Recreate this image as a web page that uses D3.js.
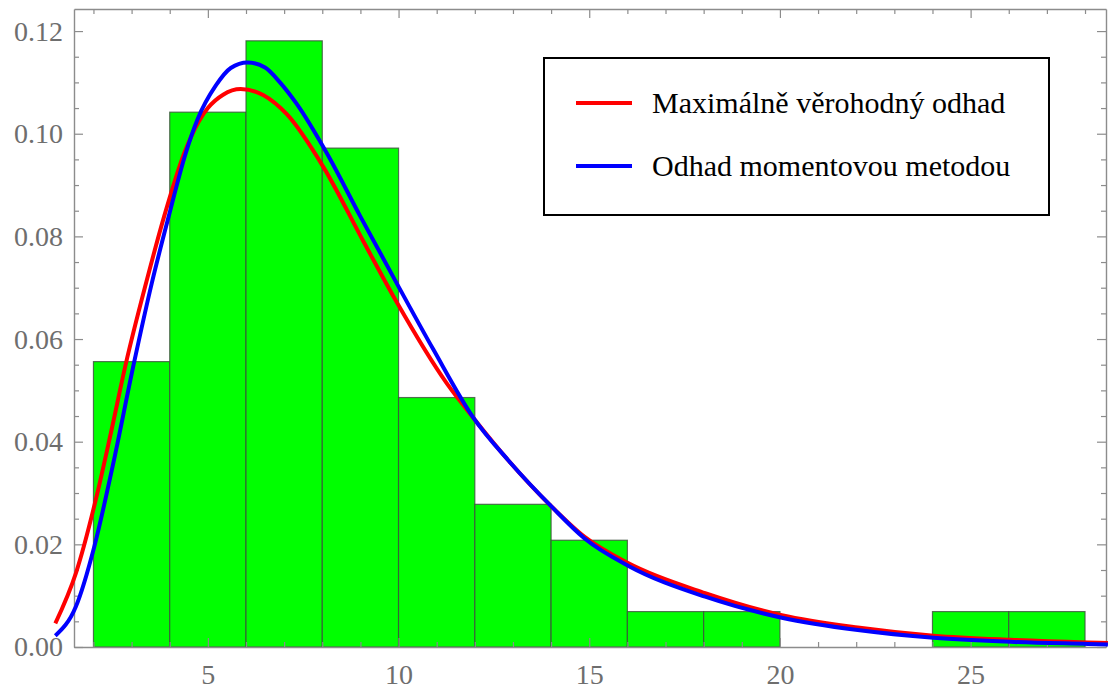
<!DOCTYPE html>
<html>
<head>
<meta charset="utf-8">
<script src="https://cdn.jsdelivr.net/npm/d3@7"></script>
<style>
  html, body { margin: 0; padding: 0; background: #fff; }
  svg { display: block; }
</style>
</head>
<body>
<svg id="chart" width="1108" height="690"></svg>
<script>
// Histogram bins (lower edge, width 2) and their densities
const binStart   = [2, 4, 6, 8, 10, 12, 14, 16, 18, 20, 22, 24, 26];
const binWidth   = 2;
const binDensity = [0.0556, 0.1042, 0.1181, 0.0972, 0.0486, 0.0278, 0.0208,
                    0.0069, 0.0069, 0, 0, 0.0069, 0.0069];

// Fitted density, maximum-likelihood estimate
const mleX = [1.00, 1.54, 2.10, 2.46, 2.85, 3.39, 3.85, 4.38, 4.77, 5.00, 5.40, 5.86,
              6.46, 7.07, 8.03, 9.08, 9.95, 11.26, 12.02, 12.91, 14.02, 14.87, 16.03,
              18.04, 20.05, 22.04, 24.03, 26.05, 28.07, 28.60];
const mleY = [0.0046, 0.0144, 0.0299, 0.0418, 0.0552, 0.0712, 0.0838, 0.0962, 0.1025, 0.1050, 0.1076, 0.1087,
              0.1075, 0.1038, 0.0935, 0.0790, 0.0672, 0.0514, 0.0441, 0.0361, 0.0273, 0.0215, 0.0163,
              0.0105, 0.0062, 0.0038, 0.0022, 0.0014, 0.0009, 0.0008];

// Fitted density, method of moments
const momX = [1.00, 1.54, 2.02, 2.50, 3.07, 3.53, 3.97, 4.42, 4.73, 5.21, 5.60, 6.04,
              6.50, 6.89, 7.33, 8.12, 8.99, 9.95, 10.91, 11.96, 12.91, 14.02, 14.87, 16.03,
              18.04, 20.05, 22.04, 24.03, 26.05, 28.07, 28.60];
const momY = [0.0022, 0.0079, 0.0195, 0.0351, 0.0556, 0.0709, 0.0838, 0.0962, 0.1028, 0.1094, 0.1128, 0.1139,
              0.1129, 0.1100, 0.1058, 0.0962, 0.0840, 0.0709, 0.0580, 0.0447, 0.0361, 0.0273, 0.0212, 0.0158,
              0.0098, 0.0057, 0.0033, 0.0018, 0.0010, 0.0006, 0.0005];

// Tick values and labels
const xMajorTicks = [5, 10, 15, 20, 25];
const xMinorTicks = d3.range(2, 29).filter(v => v % 5 !== 0);
const yMajorTicks = [0, 0.02, 0.04, 0.06, 0.08, 0.10, 0.12];
const yTickLabels = ["0.00", "0.02", "0.04", "0.06", "0.08", "0.10", "0.12"];
const yMinorTicks = [0.005, 0.01, 0.015, 0.025, 0.03, 0.035, 0.045, 0.05, 0.055,
                     0.065, 0.07, 0.075, 0.085, 0.09, 0.095, 0.105, 0.11, 0.115];

// Legend entries
const legendLabels = ["Maximálně věrohodný odhad", "Odhad momentovou metodou"];
const seriesColors = ["#ff0000", "#0000ff"];

const svg = d3.select("#chart");
const serif = "'Liberation Serif', 'Times New Roman', Times, serif";
const axisGray = "#8c8c8c";
const labelGray = "#6e6e6e";

const x = d3.scaleLinear().domain([1.49, 28.55]).range([74, 1106]);
const y = d3.scaleLinear().domain([0, 0.1243]).range([647, 9]);

// Bars
svg.append("g")
  .selectAll("rect")
  .data(binStart.map((s, i) => ({ s, d: binDensity[i] })).filter(b => b.d > 0))
  .join("rect")
    .attr("x", b => x(b.s))
    .attr("width", b => x(b.s + binWidth) - x(b.s))
    .attr("y", b => y(b.d))
    .attr("height", b => y(0) - y(b.d))
    .attr("fill", "#00ff00")
    .attr("stroke", "#3d4d3d")
    .attr("stroke-opacity", 0.8)
    .attr("stroke-width", 1.2);

// Frame with inward ticks on all four sides
function styleAxis(g, showLabels) {
  g.attr("font-family", serif).attr("font-size", 28);
  g.select(".domain").attr("stroke", axisGray).attr("stroke-width", 1.4);
  g.selectAll(".tick line").attr("stroke", axisGray).attr("stroke-width", 1.2);
  g.selectAll(".tick text").attr("fill", labelGray);
  if (!showLabels) g.selectAll(".tick text").remove();
}

const frameBottom = svg.append("g").attr("transform", `translate(0,${y(0)})`);
frameBottom.call(d3.axisBottom(x).tickValues(xMajorTicks).tickSize(-9).tickSizeOuter(0)
  .tickPadding(17).tickFormat(d3.format("d")))
  .call(g => styleAxis(g, true));
frameBottom.append("g").call(d3.axisBottom(x).tickValues(xMinorTicks).tickSize(-5).tickFormat(""))
  .call(g => { g.select(".domain").remove(); styleAxis(g, false); });

const frameTop = svg.append("g").attr("transform", `translate(0,${y.range()[1]})`);
frameTop.call(d3.axisTop(x).tickValues(xMajorTicks).tickSize(-9).tickSizeOuter(0))
  .call(g => styleAxis(g, false));
frameTop.append("g").call(d3.axisTop(x).tickValues(xMinorTicks).tickSize(-5).tickFormat(""))
  .call(g => { g.select(".domain").remove(); styleAxis(g, false); });

const frameLeft = svg.append("g").attr("transform", `translate(${x.range()[0]},0)`);
frameLeft.call(d3.axisLeft(y).tickValues(yMajorTicks).tickSize(-9).tickSizeOuter(0)
  .tickPadding(11).tickFormat((d, i) => yTickLabels[i]))
  .call(g => styleAxis(g, true));
frameLeft.append("g").call(d3.axisLeft(y).tickValues(yMinorTicks).tickSize(-5).tickFormat(""))
  .call(g => { g.select(".domain").remove(); styleAxis(g, false); });

const frameRight = svg.append("g").attr("transform", `translate(${x.range()[1]},0)`);
frameRight.call(d3.axisRight(y).tickValues(yMajorTicks).tickSize(-9).tickSizeOuter(0))
  .call(g => styleAxis(g, false));
frameRight.append("g").call(d3.axisRight(y).tickValues(yMinorTicks).tickSize(-5).tickFormat(""))
  .call(g => { g.select(".domain").remove(); styleAxis(g, false); });

// Density curves
const line = d3.line().x(p => x(p[0])).y(p => y(p[1])).curve(d3.curveMonotoneX);
const curves = [
  d3.zip(mleX, mleY),
  d3.zip(momX, momY)
];
svg.append("g")
  .selectAll("path")
  .data(curves)
  .join("path")
    .attr("d", line)
    .attr("fill", "none")
    .attr("stroke", (d, i) => seriesColors[i])
    .attr("stroke-width", 4)
    .attr("stroke-linejoin", "round");

// Legend
const legend = svg.append("g");
legend.append("rect")
  .attr("x", 544).attr("y", 58)
  .attr("width", 505).attr("height", 157)
  .attr("fill", "#fff")
  .attr("stroke", "#000")
  .attr("stroke-width", 2);
const rows = legend.selectAll("g.row")
  .data(legendLabels)
  .join("g")
    .attr("class", "row")
    .attr("transform", (d, i) => `translate(0,${103 + i * 63})`);
rows.append("line")
  .attr("x1", 576).attr("x2", 632)
  .attr("y1", 0).attr("y2", 0)
  .attr("stroke", (d, i) => seriesColors[i])
  .attr("stroke-width", 4);
rows.append("text")
  .attr("x", 652).attr("y", 10)
  .attr("font-family", serif)
  .attr("font-size", 30)
  .attr("fill", "#000")
  .text(d => d);
</script>
</body>
</html>
